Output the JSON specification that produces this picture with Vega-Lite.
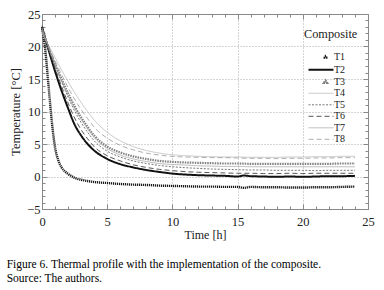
{
  "$schema": "https://vega.github.io/schema/vega-lite/v6.json",
  "width": 326,
  "height": 195,
  "autosize": {"type": "none"},
  "padding": {"left": 42, "top": 14, "right": 16, "bottom": 81},
  "config": {
    "view": {"stroke": "#888", "strokeWidth": 1},
    "font": "Liberation Serif"
  },
  "title": {
    "text": ["Figure 6. Thermal profile with the implementation of the composite.", "Source: The authors."],
    "orient": "bottom", "anchor": "start", "frame": "bounds",
    "font": "Liberation Serif", "fontSize": 11.5, "fontWeight": "normal",
    "lineHeight": 14, "offset": 18, "dx": -3, "color": "#000"
  },
  "data": {"values": [
    {"t":0,"s":"T1","v":23.0},{"t":0.25,"s":"T1","v":19.5},{"t":0.5,"s":"T1","v":14.0},{"t":0.75,"s":"T1","v":8.5},{"t":1,"s":"T1","v":4.5},{"t":1.25,"s":"T1","v":2.5},{"t":1.5,"s":"T1","v":1.4},{"t":1.75,"s":"T1","v":0.8},{"t":2,"s":"T1","v":0.4},{"t":2.5,"s":"T1","v":-0.2},{"t":3,"s":"T1","v":-0.5},{"t":3.5,"s":"T1","v":-0.7},{"t":4,"s":"T1","v":-0.85},{"t":5,"s":"T1","v":-1.0},{"t":6,"s":"T1","v":-1.15},{"t":7,"s":"T1","v":-1.25},{"t":8,"s":"T1","v":-1.3},{"t":9,"s":"T1","v":-1.4},{"t":10,"s":"T1","v":-1.45},{"t":11,"s":"T1","v":-1.5},{"t":12,"s":"T1","v":-1.55},{"t":13,"s":"T1","v":-1.55},{"t":14,"s":"T1","v":-1.6},{"t":15,"s":"T1","v":-1.6},{"t":15.5,"s":"T1","v":-1.75},{"t":16,"s":"T1","v":-1.6},{"t":17,"s":"T1","v":-1.65},{"t":18,"s":"T1","v":-1.65},{"t":19,"s":"T1","v":-1.7},{"t":20,"s":"T1","v":-1.7},{"t":21,"s":"T1","v":-1.65},{"t":22,"s":"T1","v":-1.65},{"t":23,"s":"T1","v":-1.6},{"t":24,"s":"T1","v":-1.55},

    {"t":0,"s":"T2","v":23.0},{"t":0.5,"s":"T2","v":19.5},{"t":1,"s":"T2","v":16.2},{"t":1.5,"s":"T2","v":13.2},{"t":2,"s":"T2","v":10.5},{"t":2.5,"s":"T2","v":8.0},{"t":3,"s":"T2","v":6.3},{"t":3.5,"s":"T2","v":5.0},{"t":4,"s":"T2","v":4.0},{"t":5,"s":"T2","v":2.7},{"t":6,"s":"T2","v":1.9},{"t":7,"s":"T2","v":1.4},{"t":8,"s":"T2","v":1.0},{"t":9,"s":"T2","v":0.7},{"t":10,"s":"T2","v":0.45},{"t":11,"s":"T2","v":0.3},{"t":12,"s":"T2","v":0.2},{"t":13,"s":"T2","v":0.15},{"t":14,"s":"T2","v":0.1},{"t":15,"s":"T2","v":0.0},{"t":15.5,"s":"T2","v":0.15},{"t":16,"s":"T2","v":0.05},{"t":17,"s":"T2","v":0.0},{"t":18,"s":"T2","v":-0.05},{"t":19,"s":"T2","v":0.0},{"t":20,"s":"T2","v":-0.05},{"t":21,"s":"T2","v":0.0},{"t":22,"s":"T2","v":0.05},{"t":23,"s":"T2","v":0.05},{"t":24,"s":"T2","v":0.1},

    {"t":0,"s":"T3","v":22.5},{"t":0.5,"s":"T3","v":19.8},{"t":1,"s":"T3","v":17.3},{"t":1.5,"s":"T3","v":15.0},{"t":2,"s":"T3","v":12.8},{"t":2.5,"s":"T3","v":10.8},{"t":3,"s":"T3","v":9.1},{"t":3.5,"s":"T3","v":7.6},{"t":4,"s":"T3","v":6.3},{"t":5,"s":"T3","v":4.6},{"t":6,"s":"T3","v":3.7},{"t":7,"s":"T3","v":3.1},{"t":8,"s":"T3","v":2.7},{"t":9,"s":"T3","v":2.4},{"t":10,"s":"T3","v":2.25},{"t":11,"s":"T3","v":2.15},{"t":12,"s":"T3","v":2.1},{"t":13,"s":"T3","v":2.05},{"t":14,"s":"T3","v":2.0},{"t":15,"s":"T3","v":2.0},{"t":16,"s":"T3","v":1.95},{"t":17,"s":"T3","v":1.95},{"t":18,"s":"T3","v":1.95},{"t":19,"s":"T3","v":1.95},{"t":20,"s":"T3","v":1.95},{"t":21,"s":"T3","v":1.95},{"t":22,"s":"T3","v":1.95},{"t":23,"s":"T3","v":2.0},{"t":24,"s":"T3","v":2.0},

    {"t":0,"s":"T4","v":22.0},{"t":0.5,"s":"T4","v":20.2},{"t":1,"s":"T4","v":18.3},{"t":1.5,"s":"T4","v":16.4},{"t":2,"s":"T4","v":14.6},{"t":2.5,"s":"T4","v":12.9},{"t":3,"s":"T4","v":11.4},{"t":3.5,"s":"T4","v":10.0},{"t":4,"s":"T4","v":8.7},{"t":5,"s":"T4","v":6.8},{"t":6,"s":"T4","v":5.5},{"t":7,"s":"T4","v":4.6},{"t":8,"s":"T4","v":4.0},{"t":9,"s":"T4","v":3.6},{"t":10,"s":"T4","v":3.35},{"t":11,"s":"T4","v":3.2},{"t":12,"s":"T4","v":3.1},{"t":13,"s":"T4","v":3.05},{"t":14,"s":"T4","v":3.0},{"t":15,"s":"T4","v":3.0},{"t":16,"s":"T4","v":2.95},{"t":17,"s":"T4","v":2.95},{"t":18,"s":"T4","v":2.95},{"t":19,"s":"T4","v":3.0},{"t":20,"s":"T4","v":3.0},{"t":21,"s":"T4","v":3.05},{"t":22,"s":"T4","v":3.05},{"t":23,"s":"T4","v":3.1},{"t":24,"s":"T4","v":3.1},

    {"t":0,"s":"T5","v":23.0},{"t":0.5,"s":"T5","v":20.0},{"t":1,"s":"T5","v":17.2},{"t":1.5,"s":"T5","v":14.6},{"t":2,"s":"T5","v":12.2},{"t":2.5,"s":"T5","v":10.1},{"t":3,"s":"T5","v":8.3},{"t":3.5,"s":"T5","v":6.8},{"t":4,"s":"T5","v":5.5},{"t":5,"s":"T5","v":3.9},{"t":6,"s":"T5","v":3.0},{"t":7,"s":"T5","v":2.4},{"t":8,"s":"T5","v":2.0},{"t":9,"s":"T5","v":1.7},{"t":10,"s":"T5","v":1.5},{"t":11,"s":"T5","v":1.35},{"t":12,"s":"T5","v":1.25},{"t":13,"s":"T5","v":1.15},{"t":14,"s":"T5","v":1.1},{"t":15,"s":"T5","v":1.05},{"t":16,"s":"T5","v":1.0},{"t":17,"s":"T5","v":1.0},{"t":18,"s":"T5","v":0.95},{"t":19,"s":"T5","v":0.95},{"t":20,"s":"T5","v":0.95},{"t":21,"s":"T5","v":0.9},{"t":22,"s":"T5","v":0.95},{"t":23,"s":"T5","v":0.95},{"t":24,"s":"T5","v":0.95},

    {"t":0,"s":"T6","v":23.2},{"t":0.5,"s":"T6","v":19.8},{"t":1,"s":"T6","v":16.7},{"t":1.5,"s":"T6","v":13.9},{"t":2,"s":"T6","v":11.3},{"t":2.5,"s":"T6","v":9.0},{"t":3,"s":"T6","v":7.2},{"t":3.5,"s":"T6","v":5.8},{"t":4,"s":"T6","v":4.6},{"t":5,"s":"T6","v":3.2},{"t":6,"s":"T6","v":2.4},{"t":7,"s":"T6","v":1.8},{"t":8,"s":"T6","v":1.4},{"t":9,"s":"T6","v":1.1},{"t":10,"s":"T6","v":0.9},{"t":11,"s":"T6","v":0.75},{"t":12,"s":"T6","v":0.65},{"t":13,"s":"T6","v":0.6},{"t":14,"s":"T6","v":0.55},{"t":15,"s":"T6","v":0.5},{"t":16,"s":"T6","v":0.5},{"t":17,"s":"T6","v":0.45},{"t":18,"s":"T6","v":0.45},{"t":19,"s":"T6","v":0.5},{"t":20,"s":"T6","v":0.45},{"t":21,"s":"T6","v":0.5},{"t":22,"s":"T6","v":0.5},{"t":23,"s":"T6","v":0.5},{"t":24,"s":"T6","v":0.5},

    {"t":0,"s":"T7","v":22.8},{"t":0.5,"s":"T7","v":19.9},{"t":1,"s":"T7","v":17.3},{"t":1.5,"s":"T7","v":14.8},{"t":2,"s":"T7","v":12.5},{"t":2.5,"s":"T7","v":10.5},{"t":3,"s":"T7","v":8.8},{"t":3.5,"s":"T7","v":7.3},{"t":4,"s":"T7","v":6.0},{"t":5,"s":"T7","v":4.3},{"t":6,"s":"T7","v":3.3},{"t":7,"s":"T7","v":2.7},{"t":8,"s":"T7","v":2.3},{"t":9,"s":"T7","v":2.0},{"t":10,"s":"T7","v":1.85},{"t":11,"s":"T7","v":1.75},{"t":12,"s":"T7","v":1.65},{"t":13,"s":"T7","v":1.6},{"t":14,"s":"T7","v":1.55},{"t":15,"s":"T7","v":1.55},{"t":16,"s":"T7","v":1.5},{"t":17,"s":"T7","v":1.5},{"t":18,"s":"T7","v":1.5},{"t":19,"s":"T7","v":1.5},{"t":20,"s":"T7","v":1.5},{"t":21,"s":"T7","v":1.5},{"t":22,"s":"T7","v":1.5},{"t":23,"s":"T7","v":1.5},{"t":24,"s":"T7","v":1.5},

    {"t":0,"s":"T8","v":22.3},{"t":0.5,"s":"T8","v":20.0},{"t":1,"s":"T8","v":17.8},{"t":1.5,"s":"T8","v":15.7},{"t":2,"s":"T8","v":13.7},{"t":2.5,"s":"T8","v":11.9},{"t":3,"s":"T8","v":10.3},{"t":3.5,"s":"T8","v":8.9},{"t":4,"s":"T8","v":7.6},{"t":5,"s":"T8","v":5.9},{"t":6,"s":"T8","v":4.8},{"t":7,"s":"T8","v":4.1},{"t":8,"s":"T8","v":3.6},{"t":9,"s":"T8","v":3.3},{"t":10,"s":"T8","v":3.1},{"t":11,"s":"T8","v":3.0},{"t":12,"s":"T8","v":2.95},{"t":13,"s":"T8","v":2.9},{"t":14,"s":"T8","v":2.9},{"t":15,"s":"T8","v":2.85},{"t":16,"s":"T8","v":2.8},{"t":17,"s":"T8","v":2.8},{"t":18,"s":"T8","v":2.75},{"t":19,"s":"T8","v":2.8},{"t":20,"s":"T8","v":2.8},{"t":21,"s":"T8","v":2.85},{"t":22,"s":"T8","v":2.85},{"t":23,"s":"T8","v":2.9},{"t":24,"s":"T8","v":2.9}
  ]},
  "layer": [
    {
      "mark": {"type": "line", "interpolate": "monotone"},
      "encoding": {
        "x": {"field": "t", "type": "quantitative",
          "scale": {"domain": [0, 25], "nice": false},
          "axis": {
            "title": "Time [h]",
            "values": [0,1,2,3,4,5,6,7,8,9,10,11,12,13,14,15,16,17,18,19,20,21,22,23,24,25],
            "labelExpr": "datum.value % 5 === 0 ? datum.label : ''",
            "tickSize": {"condition": {"test": "datum.value % 5 === 0", "value": -5}, "value": -3},
            "tickColor": "#888",
            "domainColor": "#888",
            "grid": true,
            "gridOpacity": {"condition": {"test": "datum.value % 5 === 0 && datum.value > 0 && datum.value < 25", "value": 1}, "value": 0},
            "gridDash": [1, 2], "gridColor": "#aaa",
            "labelFont": "Liberation Serif", "labelFontSize": 12.5, "labelColor": "#222",
            "labelPadding": 11, "labelFlush": false,
            "titleFont": "Liberation Serif", "titleFontSize": 12, "titleFontWeight": "normal", "titleColor": "#222",
            "titlePadding": 2
          }},
        "y": {"field": "v", "type": "quantitative",
          "scale": {"domain": [-5, 25], "nice": false},
          "axis": {
            "title": "Temperature [°C]",
            "values": [-5,-4,-3,-2,-1,0,1,2,3,4,5,6,7,8,9,10,11,12,13,14,15,16,17,18,19,20,21,22,23,24,25],
            "labelExpr": "datum.value % 5 === 0 ? datum.label : ''",
            "tickSize": {"condition": {"test": "datum.value % 5 === 0", "value": -5}, "value": -3},
            "tickColor": "#888",
            "domainColor": "#888",
            "grid": true,
            "gridOpacity": {"condition": {"test": "datum.value % 5 === 0 && datum.value > -5 && datum.value < 25", "value": 1}, "value": 0},
            "gridDash": [1, 2], "gridColor": "#aaa",
            "labelFont": "Liberation Serif", "labelFontSize": 12.5, "labelColor": "#222",
            "labelPadding": 7, "labelFlush": false,
            "titleFont": "Liberation Serif", "titleFontSize": 12.5, "titleFontWeight": "normal", "titleColor": "#222",
            "titlePadding": 4
          }},
        "color": {"field": "s", "type": "nominal",
          "scale": {"domain": ["T1","T2","T3","T4","T5","T6","T7","T8"],
                    "range": ["#1a1a1a","#111111","#808080","#b8b8b8","#555555","#444444","#a8a8a8","#9a9a9a"]},
          "legend": {
            "title": "Composite", "orient": "none", "legendX": 262, "legendY": 14,
            "titleFont": "Liberation Serif", "titleFontSize": 12.3, "titleFontWeight": "normal", "titleColor": "#222",
            "titlePadding": 10,
            "labelFont": "Liberation Serif", "labelFontSize": 10, "labelColor": "#222",
            "symbolType": "M-0.4,0H4.6", "symbolSize": 100, "rowPadding": 0.5, "labelOffset": 17,
            "encode": {
              "symbols": {
                "update": {
                  "shape": [
                    {"test": "datum.value === 'T1'", "value": "M2.85,-0.15H3.15V0.15H2.85Z"},
                    {"test": "datum.value === 'T3'", "value": "M2.7,0.2L3,-0.25L3.3,0.2Z"},
                    {"value": "M-0.4,0H4.6"}
                  ],
                  "strokeWidth": [
                    {"test": "datum.value === 'T1'", "value": 1},
                    {"test": "datum.value === 'T2'", "value": 2},
                    {"test": "datum.value === 'T6'", "value": 0.9},
                    {"value": 0.8}
                  ],
                  "strokeDash": [
                    {"test": "datum.value === 'T5'", "value": [2, 1.5]},
                    {"test": "datum.value === 'T6' || datum.value === 'T8'", "value": [5, 3]},
                    {"value": [1, 0]}
                  ]
                }
              }
            }
          }},
        "strokeDash": {"field": "s", "type": "nominal",
          "scale": {"domain": ["T1","T2","T3","T4","T5","T6","T7","T8"],
                    "range": [[1.2,0.8],[1,0],[1.5,1],[1,0],[2,1.5],[5,3],[1,0],[5,3]]},
          "legend": {"title": "Composite"}},
        "strokeWidth": {"field": "s", "type": "nominal",
          "scale": {"type": "ordinal", "domain": ["T1","T2","T3","T4","T5","T6","T7","T8"],
                    "range": [2.4, 2, 2.2, 0.8, 0.8, 0.9, 0.8, 0.8]},
          "legend": {"title": "Composite"}}
      }
    },
    {
      "mark": {"type": "line", "opacity": 0},
      "encoding": {
        "x": {"field": "t", "type": "quantitative",
          "axis": {"orient": "top", "title": null, "labels": false, "grid": false, "domain": false,
            "values": [0,1,2,3,4,5,6,7,8,9,10,11,12,13,14,15,16,17,18,19,20,21,22,23,24,25],
            "tickSize": {"condition": {"test": "datum.value % 5 === 0", "value": -5}, "value": -3},
            "tickColor": "#888"}},
        "y": {"field": "v", "type": "quantitative",
          "axis": {"orient": "right", "title": null, "labels": false, "grid": false, "domain": false,
            "values": [-5,-4,-3,-2,-1,0,1,2,3,4,5,6,7,8,9,10,11,12,13,14,15,16,17,18,19,20,21,22,23,24,25],
            "tickSize": {"condition": {"test": "datum.value % 5 === 0", "value": -5}, "value": -3},
            "tickColor": "#888"}},
        "detail": {"field": "s", "type": "nominal"}
      }
    }
  ],
  "resolve": {"axis": {"x": "independent", "y": "independent"}}
}
